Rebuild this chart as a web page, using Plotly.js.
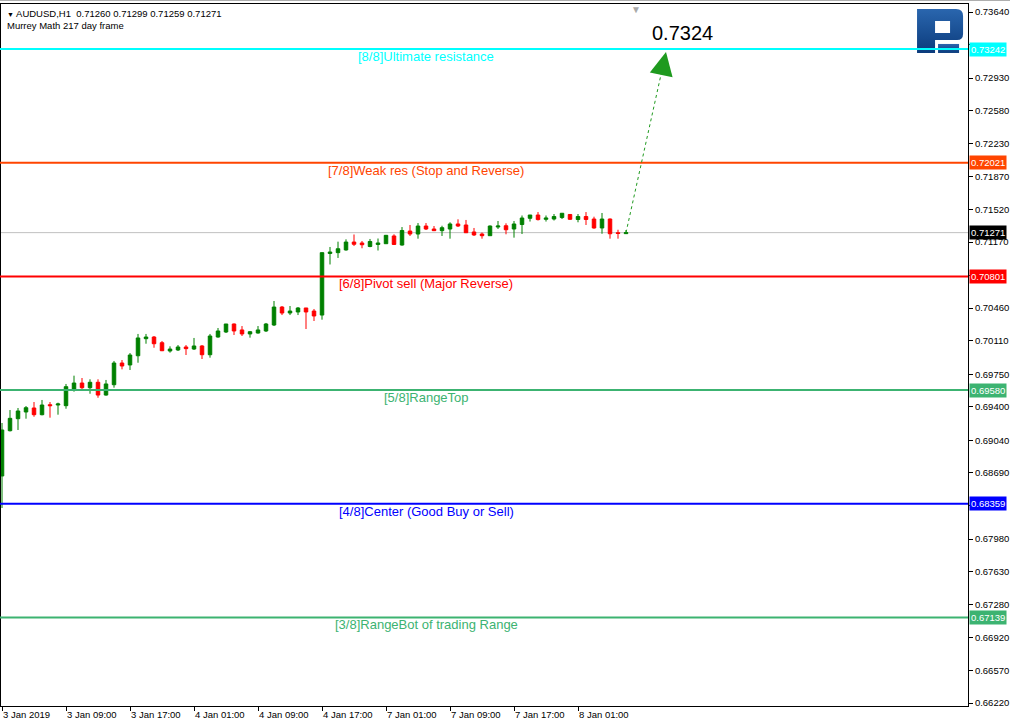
<!DOCTYPE html>
<html><head><meta charset="utf-8">
<script src="https://cdn.plot.ly/plotly-3.0.1.min.js"></script>
<style>html,body{margin:0;padding:0;background:#fff}#chart{width:1010px;height:724px}</style>
</head><body><div id="chart"></div>
<script>
const symbol = 'AUDUSD,H1';
const indicatorName = 'Murrey Math 217 day frame';

const open = [0.68658,0.69144,0.69273,0.69345,0.69388,0.69316,0.69423,0.69420,0.69413,0.69592,
0.69656,0.69606,0.69664,0.69527,0.69638,0.69871,0.69850,0.69949,0.70132,0.70150,
0.70089,0.70000,0.70011,0.70043,0.70021,0.70054,0.69960,0.70150,0.70204,0.70290,
0.70226,0.70183,0.70193,0.70215,0.70279,0.70472,0.70408,0.70419,0.70462,0.70429,
0.70386,0.71047,0.71056,0.71085,0.71170,0.71160,0.71122,0.71144,0.71152,0.71235,
0.71138,0.71288,0.71256,0.71342,0.71310,0.71292,0.71310,0.71364,0.71353,0.71278,
0.71256,0.71238,0.71331,0.71345,0.71310,0.71358,0.71425,0.71460,0.71414,0.71417,
0.71433,0.71466,0.71412,0.71444,0.71417,0.71321,0.71417,0.71270,0.71260];
const high = [0.69227,0.69366,0.69388,0.69409,0.69452,0.69474,0.69452,0.69445,0.69646,0.69735,
0.69710,0.69696,0.69696,0.69689,0.69893,0.69903,0.69978,0.70183,0.70183,0.70161,
0.70107,0.70050,0.70064,0.70064,0.70140,0.70064,0.70183,0.70247,0.70290,0.70295,
0.70268,0.70215,0.70268,0.70301,0.70537,0.70483,0.70483,0.70472,0.70462,0.70451,
0.71056,0.71117,0.71174,0.71199,0.71251,0.71181,0.71203,0.71208,0.71246,0.71253,
0.71331,0.71353,0.71374,0.71374,0.71342,0.71345,0.71382,0.71414,0.71407,0.71321,
0.71272,0.71348,0.71396,0.71371,0.71396,0.71455,0.71460,0.71492,0.71455,0.71471,
0.71479,0.71471,0.71471,0.71492,0.71442,0.71482,0.71423,0.71302,0.71299];
const low = [0.68314,0.69136,0.69152,0.69273,0.69294,0.69309,0.69284,0.69316,0.69380,0.69563,
0.69592,0.69541,0.69498,0.69520,0.69606,0.69803,0.69796,0.69874,0.70078,0.70035,
0.69999,0.69982,0.70000,0.69957,0.70011,0.69914,0.69928,0.70143,0.70193,0.70172,
0.70161,0.70143,0.70186,0.70204,0.70268,0.70386,0.70386,0.70386,0.70236,0.70322,
0.70336,0.70929,0.70999,0.71077,0.71127,0.71103,0.71114,0.71079,0.71149,0.71138,
0.71131,0.71235,0.71206,0.71299,0.71288,0.71235,0.71206,0.71331,0.71267,0.71235,
0.71206,0.71238,0.71310,0.71253,0.71217,0.71256,0.71390,0.71401,0.71390,0.71401,
0.71417,0.71407,0.71382,0.71353,0.71313,0.71259,0.71206,0.71206,0.71259];
const close = [0.69152,0.69277,0.69356,0.69391,0.69316,0.69420,0.69413,0.69431,0.69617,0.69656,
0.69606,0.69664,0.69527,0.69646,0.69871,0.69839,0.69957,0.70140,0.70150,0.70078,
0.70003,0.70021,0.70043,0.70025,0.70054,0.69960,0.70161,0.70215,0.70290,0.70215,
0.70183,0.70207,0.70226,0.70290,0.70472,0.70408,0.70429,0.70462,0.70419,0.70376,
0.71056,0.71063,0.71098,0.71170,0.71146,0.71141,0.71176,0.71160,0.71242,0.71144,
0.71294,0.71256,0.71342,0.71310,0.71292,0.71324,0.71364,0.71342,0.71270,0.71246,
0.71238,0.71342,0.71342,0.71302,0.71364,0.71428,0.71460,0.71411,0.71428,0.71444,
0.71479,0.71414,0.71444,0.71412,0.71321,0.71417,0.71259,0.71262,0.71271];

const xTickBars = [0,8,16,24,32,40,48,56,64,72];
const xTickLabels = ['3 Jan 2019','3 Jan 09:00','3 Jan 17:00','4 Jan 01:00','4 Jan 09:00','4 Jan 17:00','7 Jan 01:00','7 Jan 09:00','7 Jan 17:00','8 Jan 01:00'];
const yTickVals = [0.73640,0.73290,0.72930,0.72580,0.72230,0.71870,0.71520,0.71170,0.70810,0.70460,0.70110,
0.69750,0.69400,0.69040,0.68690,0.68340,0.67980,0.67630,0.67280,0.66920,0.66570,0.66220];

const mmLevels = [0.73242,0.72021,0.70801,0.69580,0.68359,0.67139];
const mmLabels = ['[8/8]Ultimate resistance','[7/8]Weak res (Stop and Reverse)','[6/8]Pivot sell (Major Reverse)','[5/8]RangeTop','[4/8]Center (Good Buy or Sell)','[3/8]RangeBot of trading Range'];
const mmColors = ['#00FFFF','#FF4500','#FF0000','#3CB371','#0000FF','#3CB371'];

const targetPrice = 0.7324;
const targetText = '0.7324';
const arrowTipBar = 83;
const arrowTipPrice = 0.7321;

const FONT = 'Liberation Sans, Arial, sans-serif';
const n = close.length;
const xs = close.map((_, i) => i);
const last = n - 1;

// tick labels covered by the coloured price boxes are not shown
const boxPrices = mmLevels.concat([close[last]]);
const yTickText = yTickVals.map(v => boxPrices.some(p => Math.abs(p - v) < 0.0006) ? '' : v.toFixed(5));

const trace = {
  type: 'candlestick', x: xs, open: open, high: high, low: low, close: close,
  increasing: {line: {color: '#008000', width: 1}, fillcolor: '#008000'},
  decreasing: {line: {color: '#FF0000', width: 1}, fillcolor: '#FF0000'},
  whiskerwidth: 0, hoverinfo: 'skip', showlegend: false
};

const shapes = [];
const annotations = [];

shapes.push({type:'line', xref:'paper', yref:'paper', x0:-0.01, x1:1.05, y0:1.0052, y1:1.0052, line:{color:'#A0A0A0', width:1}});
shapes.push({type:'line', xref:'paper', yref:'y', x0:0, x1:1, y0:close[last], y1:close[last], line:{color:'#C0C0C0', width:1}, layer:'below'});

mmLevels.forEach((lv, i) => {
  shapes.push({type:'line', xref:'paper', yref:'y', x0:-0.002, x1:1, y0:lv, y1:lv, line:{color:mmColors[i], width:2}});
  annotations.push({xref:'x', yref:'y', x:53, y:lv, text:mmLabels[i], showarrow:false, xanchor:'center', yanchor:'top', yshift:2,
    font:{family:FONT, size:13, color:mmColors[i]}});
  annotations.push({xref:'paper', yref:'y', x:1, y:lv, xanchor:'left', yanchor:'middle', xshift:1, text:lv.toFixed(5), showarrow:false,
    bgcolor:mmColors[i], borderpad:1, font:{family:FONT, size:9.5, color:'#FFFFFF'}});
});
annotations.push({xref:'paper', yref:'y', x:1, y:close[last], xanchor:'left', yanchor:'middle', xshift:1, text:close[last].toFixed(5), showarrow:false,
  bgcolor:'#000000', borderpad:1, font:{family:FONT, size:9.5, color:'#FFFFFF'}});

shapes.push({type:'line', xref:'x', yref:'y', x0:last, y0:close[last], x1:arrowTipBar, y1:arrowTipPrice, line:{color:'#1F9A1F', width:1, dash:'3px,3px'}});
annotations.push({xref:'x', yref:'y', x:arrowTipBar, y:arrowTipPrice, ax:-4, ay:19, text:'', showarrow:true,
  arrowhead:2, arrowsize:3.1, arrowwidth:1.5, arrowcolor:'#1F9A1F', standoff:0});
annotations.push({xref:'x', yref:'y', x:85, y:targetPrice, yshift:16, text:targetText, showarrow:false, xanchor:'center', yanchor:'middle',
  font:{family:FONT, size:20, color:'#000000'}});

annotations.push({xref:'paper', yref:'paper', x:0, y:1, xanchor:'left', yanchor:'top', xshift:4, yshift:-2, align:'left', showarrow:false,
  text:'<span style="font-size:7px">▼</span> ' + symbol + '&nbsp; ' + [open[last],high[last],low[last],close[last]].map(v=>v.toFixed(5)).join(' ') + '<br>' + indicatorName,
  font:{family:FONT, size:9.5, color:'#000000'}});

annotations.push({xref:'x', yref:'paper', x:79.3, y:1, xanchor:'center', yanchor:'top', yshift:2, text:'▼', showarrow:false,
  font:{family:FONT, size:10, color:'#A9A9A9'}});

const logoSvg = '<svg xmlns="http://www.w3.org/2000/svg" width="52" height="50" viewBox="0 0 52 50">' +
  '<defs><linearGradient id="g" x1="0" y1="0" x2="0" y2="1"><stop offset="0" stop-color="#2A66AE"/><stop offset="1" stop-color="#0B3B7C"/></linearGradient></defs>' +
  '<rect width="52" height="50" fill="#FFFFFF"/>' +
  '<path fill="url(#g)" fill-rule="evenodd" d="M3,4 H42 Q49,4 49,11 V29 Q49,35 43,35 H21 V48 H3 Z M21,16 V28 H36 V16 Z"/>' +
  '<rect x="24" y="39" width="21" height="9" fill="url(#g)"/></svg>';

const layout = {
  width: 1010, height: 724,
  margin: {l:1, r:42, t:4, b:18, pad:0},
  paper_bgcolor: '#FFFFFF', plot_bgcolor: '#FFFFFF',
  showlegend: false, boxgap: 0.375, hovermode: false,
  xaxis: {range:[-0.125,120.75], tickvals:xTickBars, ticktext:xTickLabels, ticks:'outside', ticklen:4, tickcolor:'#000',
    ticklabelposition:'outside right', showline:true, mirror:true, linecolor:'#000', linewidth:1, showgrid:false, zeroline:false,
    rangeslider:{visible:false}, fixedrange:true, tickfont:{family:FONT, size:9.5, color:'#000'}},
  yaxis: {side:'right', range:[0.66188,0.73726], tickvals:yTickVals, ticktext:yTickText, ticks:'outside', ticklen:4,
    tickcolor:'#000', showline:true, mirror:true, linecolor:'#000', linewidth:1, showgrid:false, zeroline:false, fixedrange:true,
    tickfont:{family:FONT, size:9.5, color:'#000'}},
  shapes: shapes,
  annotations: annotations,
  images: [{source:'data:image/svg+xml;charset=utf-8,' + encodeURIComponent(logoSvg), xref:'paper', yref:'paper',
    x:0.9442, y:0.9986, sizex:0.0538, sizey:0.0712, sizing:'stretch', xanchor:'left', yanchor:'top', layer:'above'}]
};

Plotly.newPlot('chart', [trace], layout, {displayModeBar:false, staticPlot:true});
</script>
</body></html>
